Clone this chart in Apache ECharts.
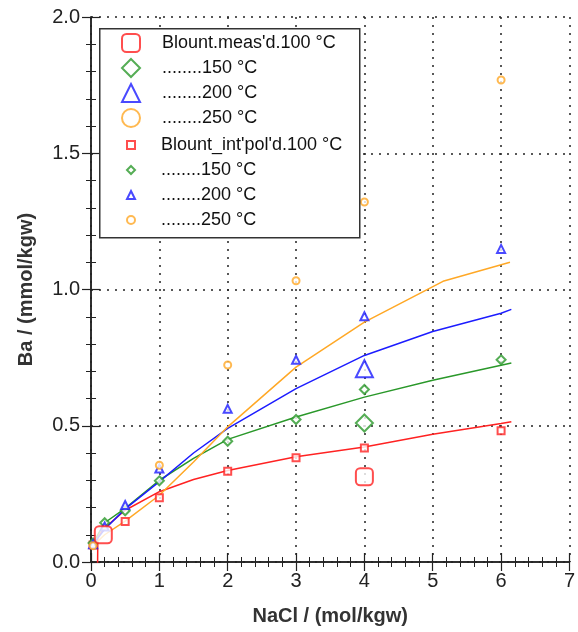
<!DOCTYPE html>
<html><head><meta charset="utf-8">
<script src="https://cdn.jsdelivr.net/npm/echarts@6/dist/echarts.min.js"></script>
<style>html,body{margin:0;padding:0;background:#fff}#c{width:578px;height:632px}</style>
</head><body><div id="c"></div>
<script>
// ---- data ----
const xTicks = [0,1,2,3,4,5,6,7];
const yTicks = [0.0,0.5,1.0,1.5,2.0];
// measured (large symbols)
const meas100 = [[0.18,0.10],[4,0.313]];
const meas150 = [[4,0.51]];
const meas200 = [[4,0.709]];
const meas250 = [];
// interpolated points (small symbols)
const int100 = [[0.03,0.062],[0.5,0.149],[1,0.236],[2,0.333],[3,0.383],[4,0.418],[6,0.482]];
const int150 = [[0.03,0.07],[0.2,0.144],[0.5,0.188],[1,0.298],[2,0.443],[3,0.523],[4,0.633],[6,0.742]];
const int200 = [[0.03,0.065],[0.2,0.13],[0.5,0.209],[1,0.343],[2,0.562],[3,0.742],[4,0.902],[6,1.149]];
const int250 = [[0.03,0.06],[1,0.355],[2,0.723],[3,1.032],[4,1.321],[6,1.769]];
// curves
const curve100 = [[0.095,-0.05],[0.1,0.093],[0.2,0.125],[0.5,0.19],[1,0.258],[1.5,0.303],[2,0.336],[3,0.386],[4,0.422],[5,0.469],[6,0.508],[6.15,0.515]];
const curve150 = [[0.03,0.07],[0.2,0.144],[0.5,0.197],[1,0.30],[1.5,0.38],[2,0.45],[3,0.532],[4,0.605],[5,0.667],[6,0.722],[6.15,0.73]];
const curve200 = [[0.03,0.065],[0.2,0.12],[0.5,0.195],[1,0.295],[1.5,0.40],[2,0.49],[3,0.636],[4,0.758],[5,0.846],[6,0.913],[6.15,0.927]];
const curve250 = [[0.03,0.06],[0.2,0.10],[0.5,0.15],[1,0.245],[1.5,0.367],[2,0.496],[3,0.715],[4,0.88],[5.15,1.03],[6.13,1.10]];

const RED='#ff2222', GREEN='#2a982a', BLUE='#1c1cff', ORANGE='#ffa826';
const dots = '........';
const names = {
  m100:"Blount.meas'd.100 °C", m150:dots+"150 °C", m200:dots+"200 °C", m250:dots+"250 °C ",
  i100:"Blount_int'pol'd.100 °C", i150:dots+"150 °C ", i200:dots+"200 °C ", i250:dots+"250 °C  "
};
const font = 'Liberation Sans, Arial, sans-serif';

function scat(name, data, sym, size, color, z){
  return {type:'scatter', name, data, symbol:sym, symbolSize:size, symbolKeepAspect:true, z,
    itemStyle:{color:color, borderColor:color, borderWidth:1.5}, emphasis:{disabled:true}, silent:true};
}
function line(data, color){
  return {type:'line', name:'_'+color, data, showSymbol:false, symbol:'none', z:2,
    lineStyle:{color, width:1.5}, itemStyle:{color}, smooth:false, silent:true};
}

const chart = echarts.init(document.getElementById('c'), null, {renderer:'canvas'});
const axisLine = {show:true, lineStyle:{color:'#222', width:1.5}};
const tick = {show:true, inside:true, length:9, lineStyle:{color:'#222', width:1.2}};
const minor = {show:true, splitNumber:5, length:5, lineStyle:{color:'#222', width:1}};
const dotted = {show:true, lineStyle:{color:'#222', type:[2,6], width:1.5}};
chart.setOption({
  animation:false,
  backgroundColor:'#fff',
  grid:{left:91, right:5, top:17, bottom:70, containLabel:false},
  xAxis:[
    {type:'value', min:xTicks[0], max:xTicks[xTicks.length-1], interval:1, position:'bottom',
     axisLine, axisTick:tick, minorTick:minor, splitLine:dotted,
     axisLabel:{color:'#222', fontSize:20, fontFamily:font, margin:9, formatter:v=>String(v)},
     name:'NaCl / (mol/kgw)', nameLocation:'middle', nameGap:44,
     nameTextStyle:{fontSize:20, fontWeight:'bold', color:'#333', fontFamily:font}},
    {type:'value', min:xTicks[0], max:xTicks[xTicks.length-1], interval:1, position:'top',
     axisLine, axisTick:tick, minorTick:minor, splitLine:{show:false}, axisLabel:{show:false}}
  ],
  yAxis:[
    {type:'value', min:yTicks[0], max:yTicks[yTicks.length-1], interval:0.5, position:'left',
     axisLine, axisTick:tick, minorTick:minor, splitLine:dotted,
     axisLabel:{color:'#222', fontSize:20, fontFamily:font, margin:11, formatter:v=>v.toFixed(1)},
     name:'Ba / (mmol/kgw)', nameLocation:'middle', nameGap:55,
     nameTextStyle:{fontSize:20, fontWeight:'bold', color:'#333', fontFamily:font}},
    {type:'value', min:yTicks[0], max:yTicks[yTicks.length-1], interval:0.5, position:'right',
     axisLine, axisTick:tick, minorTick:minor, splitLine:{show:false}, axisLabel:{show:false}}
  ],
  graphic:[{type:'rect', left:99, top:28, shape:{width:260, height:209},
    style:{fill:'#fff', stroke:'#333', lineWidth:1.5}, z:50}],
  legend:[
    {orient:'vertical', left:116, top:28, itemWidth:18, itemHeight:18, itemGap:5, z:60,
     selectedMode:false, symbolKeepAspect:true,
     textStyle:{fontSize:18, fontFamily:font, color:'#111', padding:[0,0,0,17]},
     data:[names.m100,names.m150,names.m200,names.m250]},
    {orient:'vertical', left:121, top:131, itemWidth:8, itemHeight:8, itemGap:7, z:60,
     selectedMode:false, symbolKeepAspect:true,
     textStyle:{fontSize:18, fontFamily:font, color:'#111', padding:[0,0,0,21]},
     data:[names.i100,names.i150,names.i200,names.i250]}
  ],
  series:[
    line(curve100, RED), line(curve150, GREEN), line(curve200, BLUE), line(curve250, ORANGE),
    scat(names.i100, int100, 'emptyRect', 7, RED, 5),
    scat(names.i150, int150, 'emptyDiamond', 9, GREEN, 5),
    scat(names.i200, int200, 'emptyTriangle', 8, BLUE, 5),
    scat(names.i250, int250, 'emptyCircle', 7, ORANGE, 5),
    scat(names.m100, meas100, 'emptyRoundRect', 17, RED, 6),
    scat(names.m150, meas150, 'emptyDiamond', 17, GREEN, 6),
    scat(names.m200, meas200, 'emptyTriangle', 17, BLUE, 6),
    scat(names.m250, meas250, 'emptyCircle', 17, ORANGE, 6)
  ]
});
</script></body></html>
